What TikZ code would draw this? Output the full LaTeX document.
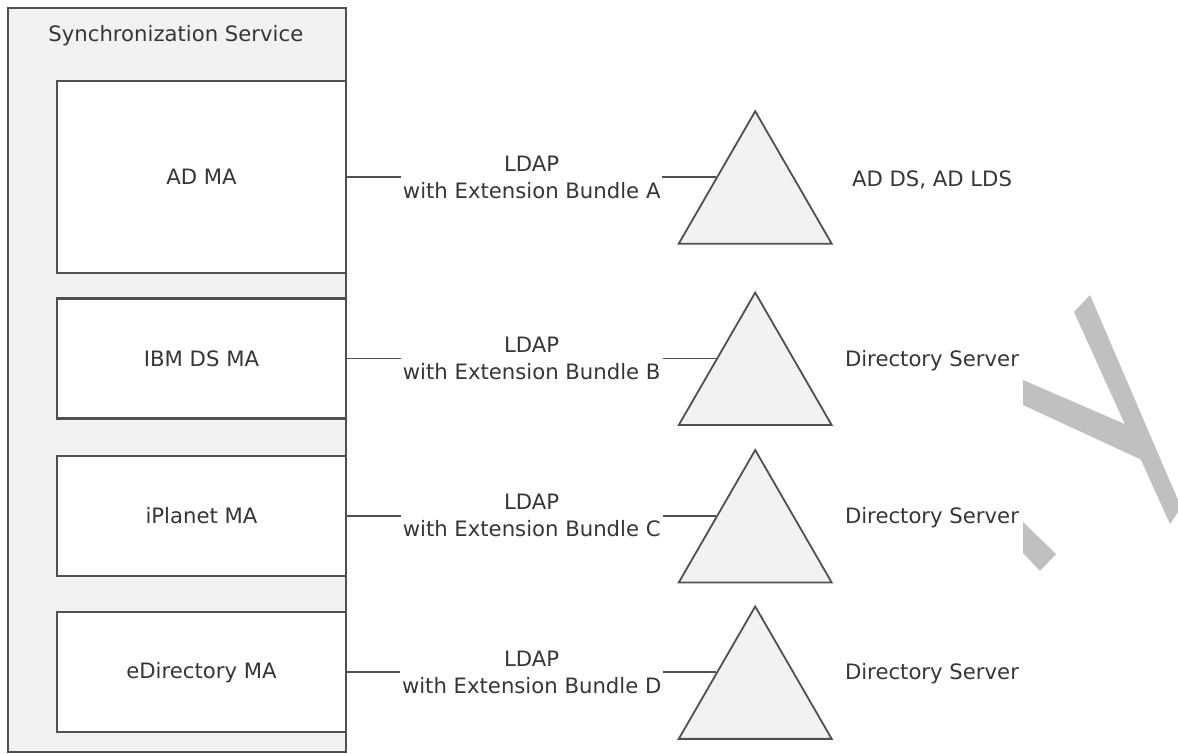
\documentclass[tikz,border=0pt]{standalone}
\usepackage{fontspec}
\setmainfont{DejaVu Sans}
\usetikzlibrary{positioning,shapes.geometric}
\definecolor{linegray}{HTML}{505050}
\definecolor{panelgray}{HTML}{F2F2F2}
\definecolor{textgray}{HTML}{363636}
\definecolor{markgray}{HTML}{C0C0C0}

\begin{document}
\begin{tikzpicture}[%
    x=0.5pt,
    y=-0.5pt,
    every node/.style={font=\fontsize{10.6pt}{13.5pt}\selectfont, text=textgray},
    servicebox/.style={draw=linegray, line width=1.2pt, fill=panelgray, minimum width=169pt, minimum height=372pt, inner sep=0pt},
    mabox/.style={draw=linegray, line width=1.2pt, fill=white, minimum width=144.5pt, minimum height=60pt, inner sep=0pt},
    directory/.style={regular polygon, regular polygon sides=3, draw=linegray, line width=0.9pt, fill=panelgray, minimum size=88.3pt, inner sep=0pt},
    link/.style={draw=linegray, line width=0.9pt},
    linklabel/.style={fill=white, align=center, inner xsep=1pt, inner ysep=1pt},
    dslabel/.style={inner sep=0pt}
    ]

    \useasboundingbox (0,0) rectangle (1178,754);

    \node[servicebox] (sync) at (177,380) {};
    \node[anchor=west, inner sep=0pt] (synctitle) at (48,36) {Synchronization Service};

    \node[mabox, minimum height=96pt] (adma) at (201.5,177) {AD MA};
    \node[mabox] (ibmma) [below=11.5pt of adma] {IBM DS MA};
    \node[mabox] (iplanetma) [below=17.5pt of ibmma] {iPlanet MA};
    \node[mabox] (edirma) [below=17pt of iplanetma] {eDirectory MA};

    \node[directory, anchor=side 1] (dsA) at ([xshift=184.5pt]adma.east) {};
    \node[directory, anchor=side 1] (dsB) at ([xshift=184.5pt]ibmma.east) {};
    \node[directory, anchor=side 1] (dsC) at ([xshift=184.5pt]iplanetma.east) {};
    \node[directory, anchor=side 1] (dsD) at ([xshift=184.5pt]edirma.east) {};

    \node[dslabel] (dsAname) at (932,180) {AD DS, AD LDS};
    \node[dslabel] (dsBname) at (932,361) {Directory Server};
    \node[dslabel] (dsCname) at (932,518) {Directory Server};
    \node[dslabel] (dsDname) at (932,674) {Directory Server};

    \draw[link] (adma.east) -- node[linklabel] {LDAP\\with Extension Bundle A} (dsA.side 1);
    \draw[link] (ibmma.east) -- node[linklabel] {LDAP\\with Extension Bundle B} (dsB.side 1);
    \draw[link] (iplanetma.east) -- node[linklabel] {LDAP\\with Extension Bundle C} (dsC.side 1);
    \draw[link] (edirma.east) -- node[linklabel] {LDAP\\with Extension Bundle D} (dsD.side 1);

    \fill[markgray] (1074,312) -- (1090,295) -- (1178,500) -- (1178,512) -- (1170,524) -- cycle;
    \fill[markgray] (1023,380) -- (1127,425) -- (1142,460) -- (1023,405) -- cycle;
    \fill[markgray] (1023,522) -- (1056,554) -- (1040,571) -- (1023,553) -- cycle;

\end{tikzpicture}
\end{document}
